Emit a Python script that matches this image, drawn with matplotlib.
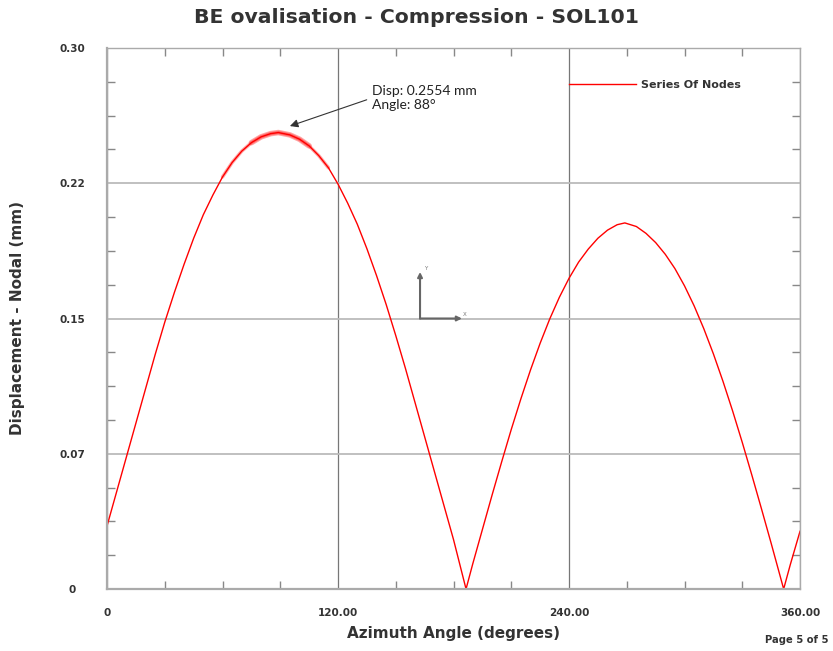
import numpy as np
import matplotlib
matplotlib.use("Agg")
from matplotlib import pyplot as plt
from matplotlib.ticker import MultipleLocator

## values (degrees, mm)
angle = [0, 5, 10, 15, 20, 25, 30, 35, 40, 45, 50, 55, 60, 65, 70, 75, 80, 85, 89,
         95, 100, 105, 110, 115, 120, 125, 130, 135, 140, 145, 150, 155, 160, 165,
         170, 175, 180, 186.5, 190, 195, 200, 205, 210, 215, 220, 225, 230, 235,
         240, 245, 250, 255, 260, 265, 269, 275, 280, 285, 290, 295, 300, 305,
         310, 315, 320, 325, 330, 335, 340, 345, 350, 351.5, 355, 360]
disp = [0.035, 0.054, 0.073, 0.092, 0.111, 0.130, 0.148, 0.1645, 0.180, 0.1945,
        0.2075, 0.2185, 0.2285, 0.2365, 0.2428, 0.2475, 0.2507, 0.2525, 0.2531,
        0.2518, 0.2494, 0.2457, 0.2403, 0.2336, 0.2245, 0.2140, 0.2023, 0.1887,
        0.1738, 0.1578, 0.1405, 0.1224, 0.1034, 0.0844, 0.0654, 0.0464, 0.0274,
        0.0, 0.014, 0.033, 0.052, 0.0705, 0.0885, 0.1055, 0.1215, 0.1363,
        0.1498, 0.1618, 0.1723, 0.1813, 0.1885, 0.1945, 0.1990, 0.2020, 0.2030,
        0.2010, 0.1972, 0.1921, 0.1856, 0.1777, 0.1681, 0.1570, 0.1444, 0.1304,
        0.1151, 0.0987, 0.0813, 0.0631, 0.0444, 0.0254, 0.0059, 0.0, 0.0137, 0.032]
x_ticks = [0, 120, 240, 360]
x_labels = ['0', '120.00', '240.00', '360.00']
y_ticks = [0, 0.075, 0.15, 0.225, 0.30]
y_labels = ['0', '0.07', '0.15', '0.22', '0.30']

txt = '#333333'
fig = plt.figure(figsize=(8.33, 6.51), dpi=100)
ax = fig.add_axes([0.1285, 0.0952, 0.8319, 0.8311])

ax.plot(angle, disp, color='red', lw=1.0, label='Series Of Nodes')
## noisy band around the first peak
a = np.array(angle)
d = np.array(disp)
m = (a >= 60) & (a <= 115)
ax.plot(a[m], d[m], color='red', lw=2.5, alpha=0.35, solid_capstyle='round')
m = (a >= 75) & (a <= 105)
ax.plot(a[m], d[m], color='red', lw=4, alpha=0.35, solid_capstyle='round')

ax.set_xlim(0, 360)
ax.set_ylim(0, 0.30)
ax.set_xticks(x_ticks)
ax.set_xticklabels(x_labels)
ax.set_yticks(y_ticks)
ax.set_yticklabels(y_labels)
ax.xaxis.set_minor_locator(MultipleLocator(30))
ax.yaxis.set_minor_locator(MultipleLocator(0.01875))
ax.tick_params(which='both', direction='in', top=True, right=True, color='#888888')
ax.tick_params(which='major', length=0)
ax.tick_params(which='minor', length=6, width=1)
ax.tick_params(axis='x', which='major', pad=14)
ax.tick_params(axis='y', which='major', pad=25)
for lab in ax.get_xticklabels() + ax.get_yticklabels():
    lab.set_fontweight('bold')
    lab.set_fontsize(7.5)
    lab.set_color(txt)
for lab in ax.get_yticklabels():
    lab.set_horizontalalignment('center')

ax.grid(True, axis='y', which='major', color='#bbbbbb', lw=1.3)
ax.grid(True, axis='x', which='major', color='#777777', lw=0.9)
for s in ['left', 'bottom']:
    ax.spines[s].set_color('#aaaaaa')
    ax.spines[s].set_linewidth(1.6)
for s in ['top', 'right']:
    ax.spines[s].set_color('#aaaaaa')
    ax.spines[s].set_linewidth(1.0)

fig.text(0.5, 0.973, 'BE ovalisation - Compression - SOL101', ha='center', va='center',
         fontsize=14.7, fontweight='bold', color=txt)
fig.text(0.5444, 0.0276, 'Azimuth Angle (degrees)', ha='center', va='center',
         fontsize=11, fontweight='bold', color=txt)
fig.text(0.021, 0.5111, 'Displacement - Nodal (mm)', rotation=90, ha='center', va='center',
         fontsize=11, fontweight='bold', color=txt)
fig.text(0.994, 0.017, 'Page 5 of 5', ha='right', va='center', fontsize=7.2, fontweight='bold', color=txt)

leg = ax.legend(loc='center left', bbox_to_anchor=(0.652, 0.932), frameon=False,
                handlelength=6.0, handletextpad=0.5, prop={'weight': 'bold', 'size': 8})
for t in leg.get_texts():
    t.set_color(txt)

ax.annotate('Disp: 0.2554 mm\nAngle: 88\u00b0', xy=(95, 0.2567), xytext=(137.7, 0.2723),
            fontsize=10, family='Lato', va='center', ha='left', color='#222222',
            arrowprops=dict(arrowstyle='-|>', color='#333333', lw=0.8,
                            mutation_scale=12, shrinkA=2, shrinkB=0, relpos=(0, 0.5)))

## small coordinate triad
ax.annotate('', xy=(162.6, 0.1758), xytext=(162.6, 0.15),
            arrowprops=dict(arrowstyle='-|>', color='#666666', lw=1.5, mutation_scale=7, shrinkA=0, shrinkB=0))
ax.annotate('', xy=(184.4, 0.15), xytext=(162.6, 0.15),
            arrowprops=dict(arrowstyle='-|>', color='#666666', lw=1.5, mutation_scale=7, shrinkA=0, shrinkB=0))
ax.text(164.5, 0.1765, 'Y', fontsize=4, color='#777777', va='bottom')
ax.text(184.8, 0.1508, 'X', fontsize=4, color='#777777', va='bottom')

fig.savefig('out.png', dpi=100)
